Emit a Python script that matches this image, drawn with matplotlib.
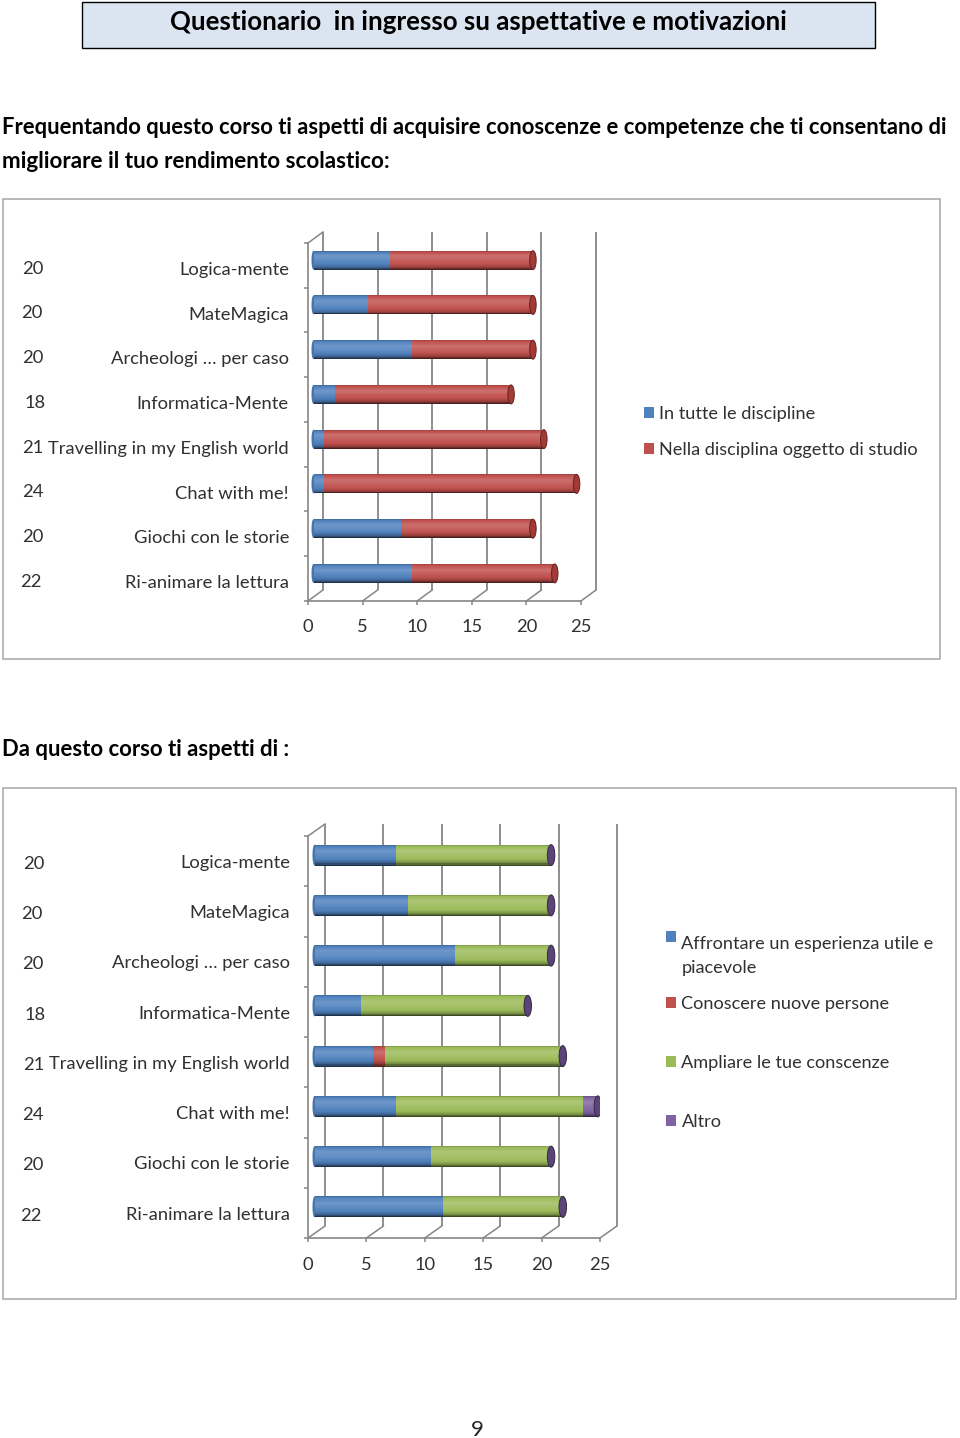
import numpy as np
import matplotlib
matplotlib.use("Agg")
import matplotlib.pyplot as plt
from matplotlib.patches import Ellipse, Rectangle, Patch
from matplotlib.colors import to_rgb
from matplotlib.transforms import IdentityTransform, blended_transform_factory

plt.rcParams['font.family'] = ['Lato', 'DejaVu Sans']

categories = ["Logica-mente", "MateMagica", "Archeologi … per caso", "Informatica-Mente",
              "Travelling in my English world", "Chat with me!", "Giochi con le storie",
              "Ri-animare la lettura"]
counts = [20, 20, 20, 18, 21, 24, 20, 22]

c1_tutte = [7, 5, 9, 2, 1, 1, 8, 9]
c1_nella = [13, 15, 11, 16, 20, 23, 12, 13]

c2_affrontare = [7, 8, 12, 4, 5, 7, 10, 11]
c2_conoscere = [0, 0, 0, 0, 1, 0, 0, 0]
c2_ampliare = [13, 12, 8, 14, 15, 16, 10, 10]
c2_altro = [0, 0, 0, 0, 0, 1, 0, 0]

BLUE, RED, GREEN, PURPLE = "#4F81BD", "#C0504D", "#9BBB59", "#8064A2"
GRID = "#868686"
TXT = "#303030"
W, H = 960, 1438

fig = plt.figure(figsize=(W / 100, H / 100), dpi=100, facecolor="white")


def fx(x):
    return x / W


def fy(y):
    return 1 - y / H


def frame(x0, y0, x1, y1, ec, fc="white", lw=1.1):
    fig.add_artist(Rectangle((fx(x0), fy(y1)), (x1 - x0) / W, (y1 - y0) / H,
                             transform=fig.transFigure, fc=fc, ec=ec, lw=lw, zorder=-1))


def shade(col, f):
    rgb = np.array(to_rgb(col))
    if f <= 1:
        return tuple(rgb * f)
    return tuple(rgb + (1 - rgb) * (f - 1))


PROFILE_T = [0.0, 0.08, 0.3, 0.7, 0.86, 1.0]
PROFILE_F = [0.8, 1.0, 1.18, 1.0, 0.8, 0.3]


def chart(x0, x25, ytop, yfloor, ddx, ddy, bar_dx, bar_dy, bar_h, series, colors, cap, cap_w, cap_off,
          count_x, label_x, tick_pad, label_off, count_off):
    pxu = (x25 - x0) / 25
    pyu = (yfloor - ytop) / 8
    ax = fig.add_axes([fx(x0), fy(yfloor), (x25 - x0) / W, (yfloor - ytop) / H])
    ax.set_xlim(0, 25)
    ax.set_ylim(8, 0)
    ax.patch.set_alpha(0)
    for s in ("top", "right"):
        ax.spines[s].set_visible(False)
    for s in ("left", "bottom"):
        ax.spines[s].set_color(GRID)
        ax.spines[s].set_linewidth(1.2)
    dxd, dyd = ddx / pxu, ddy / pyu
    # back wall, floor and side wall
    for v in range(0, 30, 5):
        ax.plot([v + dxd] * 2, [8 - dyd, 0 - dyd], color=GRID, lw=1.3, clip_on=False, zorder=1,
                solid_capstyle="butt")
        ax.plot([v, v + dxd], [8, 8 - dyd], color=GRID, lw=1.1, clip_on=False, zorder=1)
    ax.plot([0, dxd], [0, -dyd], color=GRID, lw=1.1, clip_on=False, zorder=1)

    ax.set_xticks(range(0, 30, 5))
    ax.set_yticks(range(0, 9))
    ax.set_yticklabels([])
    ax.tick_params(axis="both", which="major", color=GRID, width=1.1, length=3)
    ax.tick_params(axis="x", labelsize=13.2, labelcolor=TXT, pad=tick_pad)
    centres = np.arange(8) + 0.5
    ax.set_yticks(centres + label_off / pyu, minor=True)
    ax.set_yticklabels(categories, minor=True)
    ax.tick_params(axis="y", which="minor", length=0, labelsize=13.2, labelcolor=TXT,
                   pad=(x0 - label_x) * 0.72)

    # cylinders
    dx0, dy0 = bar_dx / pxu, bar_dy / pyu
    n = 20
    hh = bar_h / pyu
    edges = np.linspace(0, 1, n + 1)
    for i, yc in enumerate(centres - dy0):
        end = sum(vals[i] for vals in series) + dx0
        ax.add_patch(Ellipse((dx0, yc), 4 / pxu, hh, fc=shade(colors[0], 0.9), ec="none", zorder=2))
        for k in range(n):
            t = (edges[k] + edges[k + 1]) / 2
            f = np.interp(t, PROFILE_T, PROFILE_F)
            left = dx0
            yy = yc - hh / 2 + t * hh
            for vals, col in zip(series, colors):
                if vals[i] > 0:
                    width = vals[i] + (cap_off / pxu if left + vals[i] >= end - 1e-9 else 0)
                    ax.barh(yy, width, left=left, height=hh / n * 1.05, color=shade(col, f), lw=0, zorder=3)
                    left += vals[i]
        ax.add_patch(Ellipse((end + cap_off / pxu, yc), cap_w / pxu, hh, fc=cap, ec=shade(cap, 0.6), lw=0.7,
                             zorder=4))
    # respondent counts
    tr = blended_transform_factory(fig.transFigure, ax.transData)
    for i, yc in enumerate(centres):
        ax.text(fx(count_x[i]), yc + count_off / pyu, str(counts[i]), transform=tr,
                ha="center", va="center", fontsize=13.2, color=TXT)
    return ax


def legend_at(ax, handles, labels, x, y, spacing=1.1):
    leg = ax.legend(handles, labels, loc="upper left", bbox_to_anchor=(x, H - y),
                    bbox_transform=IdentityTransform(), frameon=False, fontsize=13.1, borderpad=0,
                    borderaxespad=0, handlelength=0.55, handleheight=0.55, handletextpad=0.3,
                    labelspacing=spacing, labelcolor=TXT)
    for t in leg.get_texts():
        t.set_linespacing(1.62)
    return leg


# page furniture
frame(82, 2, 875, 48, "black", "#DBE5F1", 1.0)
fig.text(fx(478), fy(22.5), "Questionario  in ingresso su aspettative e motivazioni", ha="center", va="center",
         fontsize=18.6, fontweight="bold", color="black")
fig.text(fx(2), fy(128), "Frequentando questo corso ti aspetti di acquisire conoscenze e competenze che ti consentano di",
         va="center", fontsize=15.85, fontweight="bold", color="black")
fig.text(fx(2), fy(161), "migliorare il tuo rendimento scolastico:", va="center", fontsize=16.2, fontweight="bold",
         color="black")
fig.text(fx(2), fy(750), "Da questo corso ti aspetti di :", va="center", fontsize=15.9, fontweight="bold", color="black")
fig.text(fx(477), fy(1430), "9", ha="center", va="center", fontsize=16, color="#222222")
frame(3, 199, 940, 659, "#A6A6A6")
frame(3, 788, 956, 1299, "#A6A6A6")

# chart 1
a1 = chart(308, 581, 243, 601, 15, 11, 5.5, 5.2, 19, [c1_tutte, c1_nella], [BLUE, RED], "#A33A37", 6.5, 1,
           [33, 32, 33, 35, 33, 33, 33, 31], 289, 10, 3.0, 3.3)
legend_at(a1, [Patch(fc=BLUE), Patch(fc=RED)],
          ["In tutte le discipline", "Nella disciplina oggetto di studio"], 644, 406)

# chart 2
a2 = chart(308, 600, 836, 1238, 17, 12, 6.5, 6, 21, [c2_affrontare, c2_conoscere, c2_ampliare, c2_altro],
           [BLUE, RED, GREEN, PURPLE], "#5A4478", 7.5, 3,
           [34, 32, 33, 35, 34, 33, 33, 31], 290, 10.5, 0.3, 2.8)
leg1 = legend_at(a2, [Patch(fc=BLUE)], ["Affrontare un esperienza utile e\npiacevole"], 666, 936)
handle = leg1.legend_handles[0]
handle.set_y(handle.get_y() + 14)
a2.add_artist(leg1)
legend_at(a2, [Patch(fc=RED), Patch(fc=GREEN), Patch(fc=PURPLE)],
          ["Conoscere nuove persone", "Ampliare le tue conscenze", "Altro"], 666, 996, spacing=2.36)

fig.savefig("out.png", dpi=100)
